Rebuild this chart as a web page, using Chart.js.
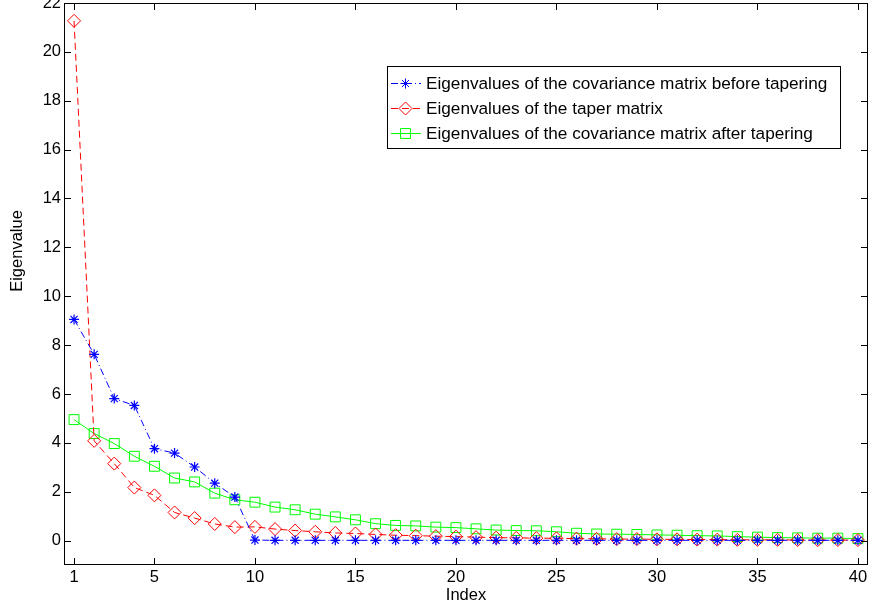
<!DOCTYPE html>
<html>
<head>
<meta charset="utf-8">
<script src="https://cdn.jsdelivr.net/npm/chart.js@4.4.0/dist/chart.umd.min.js"></script>
<style>
  html, body { margin: 0; padding: 0; background: #fff; }
</style>
</head>
<body>
<canvas id="chart" width="870" height="611"></canvas>
<script>
// index of each eigenvalue (x axis)
var indexValues = [1, 2, 3, 4, 5, 6, 7, 8, 9, 10, 11, 12, 13, 14, 15, 16, 17, 18, 19, 20,
                   21, 22, 23, 24, 25, 26, 27, 28, 29, 30, 31, 32, 33, 34, 35, 36, 37, 38, 39, 40];

// eigenvalues of the covariance matrix before tapering
var beforeTaper = [9.05, 7.62, 5.81, 5.53, 3.76, 3.58, 3.01, 2.35, 1.78, 0.02,
                   0.01, 0.01, 0.01, 0.01, 0.01, 0.01, 0.01, 0.01, 0.01, 0.01,
                   0.01, 0.01, 0.01, 0.01, 0.01, 0.01, 0.01, 0.01, 0.01, 0.01,
                   0.01, 0.01, 0.01, 0.01, 0.01, 0.01, 0.01, 0.01, 0.01, 0.01];

// eigenvalues of the taper matrix
var taperValues = [21.27, 4.08, 3.15, 2.17, 1.85, 1.15, 0.92, 0.68, 0.55, 0.56,
                   0.47, 0.41, 0.36, 0.31, 0.29, 0.25, 0.22, 0.20, 0.18, 0.16,
                   0.14, 0.12, 0.11, 0.10, 0.09, 0.08, 0.07, 0.06, 0.06, 0.05,
                   0.05, 0.04, 0.04, 0.03, 0.03, 0.03, 0.02, 0.02, 0.02, 0.02];

// eigenvalues of the covariance matrix after tapering
var afterTaper = [4.95, 4.38, 3.97, 3.45, 3.04, 2.56, 2.40, 1.94, 1.67, 1.57,
                  1.37, 1.26, 1.08, 0.97, 0.85, 0.69, 0.62, 0.60, 0.55, 0.53,
                  0.48, 0.43, 0.41, 0.40, 0.36, 0.30, 0.27, 0.26, 0.25, 0.23,
                  0.22, 0.20, 0.19, 0.16, 0.14, 0.12, 0.11, 0.10, 0.10, 0.08];

var seriesNames = [
  "Eigenvalues of the covariance matrix before tapering",
  "Eigenvalues of the taper matrix",
  "Eigenvalues of the covariance matrix after tapering"
];

var xTicks = [1, 5, 10, 15, 20, 25, 30, 35, 40];
var yTicks = [0, 2, 4, 6, 8, 10, 12, 14, 16, 18, 20, 22];

var fontFamily = "'Liberation Sans', Arial, Helvetica, sans-serif";

function toPoints(ys) {
  var pts = [];
  for (var i = 0; i < ys.length; i++) {
    pts.push({ x: indexValues[i], y: ys[i] });
  }
  return pts;
}

// frame, inward ticks on all four sides, y title and the boxed legend
var matlabAxes = {
  id: "matlabAxes",
  afterDraw: function(chart) {
    var ctx = chart.ctx;
    var area = chart.chartArea;
    var xs = chart.scales.x;
    var ys = chart.scales.y;
    var tick = 7;

    ctx.save();
    ctx.strokeStyle = "#000";
    ctx.lineWidth = 1;
    ctx.strokeRect(area.left + 0.5, area.top + 0.5, area.right - area.left - 1, area.bottom - area.top - 1);

    ctx.beginPath();
    xTicks.forEach(function(v) {
      var px = Math.round(xs.getPixelForValue(v)) + 0.5;
      ctx.moveTo(px, area.bottom); ctx.lineTo(px, area.bottom - tick);
      ctx.moveTo(px, area.top); ctx.lineTo(px, area.top + tick);
    });
    yTicks.forEach(function(v) {
      var py = Math.round(ys.getPixelForValue(v)) + 0.5;
      ctx.moveTo(area.left, py); ctx.lineTo(area.left + tick, py);
      ctx.moveTo(area.right, py); ctx.lineTo(area.right - tick, py);
    });
    ctx.stroke();

    // y axis title (sits a bit above the middle, like the original)
    ctx.fillStyle = "#000";
    ctx.font = "16.5px " + fontFamily;
    ctx.textAlign = "center";
    ctx.textBaseline = "middle";
    ctx.save();
    ctx.translate(17, 251);
    ctx.rotate(-Math.PI / 2);
    ctx.fillText("Eigenvalue", 0, 0);
    ctx.restore();

    // legend box
    var box = { left: 387.5, top: 66.5, right: 840.5, bottom: 148.5 };
    ctx.fillStyle = "#fff";
    ctx.fillRect(box.left, box.top, box.right - box.left, box.bottom - box.top);
    ctx.strokeStyle = "#000";
    ctx.strokeRect(box.left, box.top, box.right - box.left, box.bottom - box.top);

    var rows = [83, 108, 133];
    ctx.font = "17.2px " + fontFamily;
    ctx.textAlign = "left";
    chart.data.datasets.forEach(function(ds, i) {
      var y = rows[i];
      ctx.save();
      ctx.strokeStyle = ds.borderColor;
      ctx.lineWidth = 1;
      ctx.setLineDash(ds.borderDash || []);
      ctx.beginPath();
      ctx.moveTo(391, y + 0.5);
      ctx.lineTo(421, y + 0.5);
      ctx.stroke();
      ctx.setLineDash([]);
      ctx.fillStyle = "rgba(0,0,0,0)";
      Chart.helpers.drawPoint(ctx, {
        pointStyle: ds.pointStyle,
        radius: ds.pointRadius,
        rotation: 0,
        borderWidth: 1
      }, 405.5, y + 0.5);
      ctx.restore();
      ctx.fillStyle = "#000";
      ctx.fillText(ds.label, 426, y + 1);
    });
    ctx.restore();
  }
};

var ctx = document.getElementById("chart").getContext("2d");
var chart = new Chart(ctx, {
  type: "line",
  data: {
    datasets: [
      {
        label: seriesNames[0],
        data: toPoints(beforeTaper),
        borderColor: "#0000ff",
        backgroundColor: "rgba(0,0,0,0)",
        borderWidth: 1,
        borderDash: [7, 3, 1, 3],
        pointStyle: "star",
        pointRadius: 5,
        pointBorderWidth: 1.2,
        pointBorderColor: "#0000ff",
        pointBackgroundColor: "rgba(0,0,0,0)",
        tension: 0
      },
      {
        label: seriesNames[1],
        data: toPoints(taperValues),
        borderColor: "#ff0000",
        backgroundColor: "rgba(0,0,0,0)",
        borderWidth: 1,
        borderDash: [7, 4],
        pointStyle: "rectRot",
        pointRadius: 6.5,
        pointBorderWidth: 1,
        pointBorderColor: "#ff0000",
        pointBackgroundColor: "rgba(0,0,0,0)",
        tension: 0
      },
      {
        label: seriesNames[2],
        data: toPoints(afterTaper),
        borderColor: "#00ff00",
        backgroundColor: "rgba(0,0,0,0)",
        borderWidth: 1,
        pointStyle: "rect",
        pointRadius: 7,
        pointBorderWidth: 1,
        pointBorderColor: "#00ff00",
        pointBackgroundColor: "rgba(0,0,0,0)",
        tension: 0
      }
    ]
  },
  options: {
    responsive: false,
    animation: false,
    devicePixelRatio: 1,
    layout: { autoPadding: false, padding: { left: 0, right: 2, top: 3, bottom: 0 } },
    plugins: {
      legend: { display: false },
      tooltip: { enabled: false }
    },
    scales: {
      x: {
        type: "linear",
        min: 0.5,
        max: 40.5,
        grid: { display: false, drawTicks: false },
        border: { display: false },
        afterBuildTicks: function(scale) {
          scale.ticks = xTicks.map(function(v) { return { value: v }; });
        },
        afterFit: function(scale) {
          scale.height = 46;
          scale.paddingLeft = 0;
          scale.paddingRight = 0;
        },
        ticks: {
          color: "#000",
          padding: 3,
          maxRotation: 0,
          autoSkip: false,
          font: { family: fontFamily, size: 16.5 }
        },
        title: {
          display: true,
          text: "Index",
          color: "#000",
          padding: { top: 0, bottom: 6 },
          font: { family: fontFamily, size: 16.5 }
        }
      },
      y: {
        type: "linear",
        min: -1,
        max: 22,
        grid: { display: false, drawTicks: false },
        border: { display: false },
        afterBuildTicks: function(scale) {
          scale.ticks = yTicks.map(function(v) { return { value: v }; });
        },
        afterFit: function(scale) {
          scale.width = 64;
          scale.paddingTop = 0;
          scale.paddingBottom = 0;
        },
        ticks: {
          color: "#000",
          padding: 3,
          autoSkip: false,
          font: { family: fontFamily, size: 16.5 }
        }
      }
    }
  },
  plugins: [matlabAxes]
});
</script>
</body>
</html>
